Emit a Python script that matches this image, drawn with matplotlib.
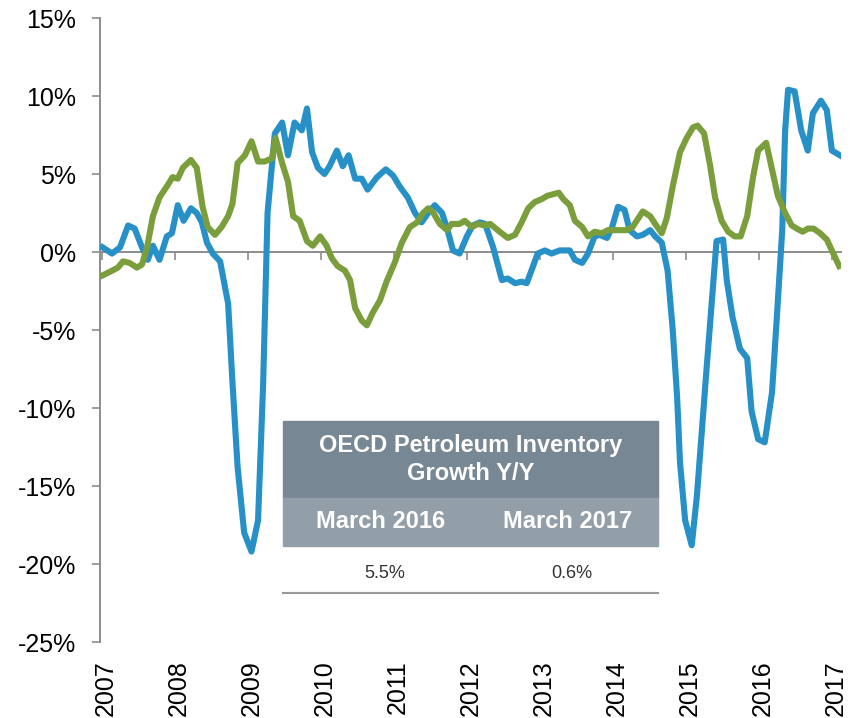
import numpy as np
import matplotlib.pyplot as plt
from matplotlib.patches import Rectangle
from matplotlib.ticker import FuncFormatter
import matplotlib.transforms as mtransforms

plt.rcParams['font.family'] = ['Liberation Sans', 'DejaVu Sans']

# blue series (decimal year, % y/y)
blue_t = [2007.01, 2007.14, 2007.25, 2007.36, 2007.45, 2007.55, 2007.63, 2007.70, 2007.79, 2007.89,
          2007.96, 2008.04, 2008.12, 2008.22, 2008.30, 2008.37, 2008.44, 2008.52, 2008.62, 2008.73,
          2008.79, 2008.86, 2008.95, 2009.05, 2009.14, 2009.21, 2009.27, 2009.37, 2009.47, 2009.55,
          2009.64, 2009.74, 2009.81, 2009.88, 2009.96, 2010.05, 2010.12, 2010.22, 2010.30, 2010.38,
          2010.47, 2010.56, 2010.64, 2010.77, 2010.89, 2010.99, 2011.08, 2011.19, 2011.29, 2011.38,
          2011.47, 2011.56, 2011.66, 2011.73, 2011.81, 2011.90, 2012.00, 2012.08, 2012.18, 2012.25,
          2012.36, 2012.48, 2012.56, 2012.66, 2012.75, 2012.82, 2012.90, 2012.97, 2013.07, 2013.16,
          2013.27, 2013.41, 2013.48, 2013.58, 2013.66, 2013.75, 2013.82, 2013.92, 2013.99, 2014.07,
          2014.16, 2014.23, 2014.33, 2014.41, 2014.51, 2014.58, 2014.67, 2014.75, 2014.82, 2014.88,
          2014.92, 2014.99, 2015.08, 2015.15, 2015.22, 2015.29, 2015.36, 2015.42, 2015.51, 2015.56,
          2015.64, 2015.74, 2015.84, 2015.90, 2015.99, 2016.08, 2016.18, 2016.25, 2016.32, 2016.36,
          2016.40, 2016.49, 2016.58, 2016.67, 2016.74, 2016.85, 2016.93, 2017.00, 2017.11]
blue_v = [0.3, -0.1, 0.3, 1.7, 1.5, 0.3, -0.5, 0.4, -0.5, 1.0,
          1.2, 3.0, 2.0, 2.8, 2.5, 1.9, 0.6, -0.1, -0.6, -3.3,
          -8.4, -13.8, -18.0, -19.2, -17.2, -8.4, 2.5, 7.6, 8.3, 6.2,
          8.3, 7.8, 9.2, 6.4, 5.4, 5.0, 5.5, 6.5, 5.5, 6.2,
          4.7, 4.7, 4.0, 4.8, 5.3, 4.9, 4.2, 3.5, 2.5, 1.9,
          2.5, 3.0, 2.5, 1.5, 0.1, -0.1, 1.0, 1.7, 1.9, 1.8,
          0.3, -1.8, -1.7, -2.0, -1.9, -2.0, -1.0, -0.1, 0.1, -0.1,
          0.1, 0.1, -0.5, -0.7, -0.1, 1.0, 1.1, 0.9, 1.6, 2.9,
          2.7, 1.4, 1.0, 1.1, 1.4, 1.0, 0.6, -1.2, -5.0, -9.3,
          -13.5, -17.2, -18.8, -15.7, -11.4, -7.1, -2.9, 0.7, 0.8, -1.8,
          -4.2, -6.2, -6.8, -10.2, -12.0, -12.2, -9.0, -3.9, 1.4, 7.8,
          10.4, 10.3, 7.8, 6.5, 8.9, 9.7, 9.1, 6.5, 6.2]

# green series
green_t = [2007.01, 2007.14, 2007.22, 2007.29, 2007.38, 2007.48, 2007.55, 2007.62, 2007.70, 2007.79,
           2007.89, 2007.97, 2008.04, 2008.11, 2008.22, 2008.30, 2008.38, 2008.45, 2008.55, 2008.64,
           2008.73, 2008.79, 2008.86, 2008.96, 2009.05, 2009.14, 2009.23, 2009.33, 2009.38, 2009.47,
           2009.55, 2009.62, 2009.71, 2009.81, 2009.89, 2009.99, 2010.08, 2010.15, 2010.23, 2010.33,
           2010.40, 2010.47, 2010.56, 2010.63, 2010.71, 2010.81, 2010.90, 2011.01, 2011.11, 2011.22,
           2011.32, 2011.40, 2011.47, 2011.53, 2011.63, 2011.73, 2011.79, 2011.90, 2011.97, 2012.07,
           2012.15, 2012.25, 2012.32, 2012.45, 2012.56, 2012.66, 2012.75, 2012.84, 2012.93, 2013.03,
           2013.10, 2013.18, 2013.26, 2013.32, 2013.41, 2013.48, 2013.58, 2013.66, 2013.75, 2013.85,
           2013.93, 2014.05, 2014.19, 2014.27, 2014.41, 2014.51, 2014.58, 2014.67, 2014.74, 2014.82,
           2014.92, 2015.01, 2015.10, 2015.16, 2015.25, 2015.33, 2015.40, 2015.49, 2015.58, 2015.67,
           2015.75, 2015.84, 2015.92, 2015.99, 2016.10, 2016.18, 2016.26, 2016.36, 2016.45, 2016.52,
           2016.60, 2016.67, 2016.75, 2016.84, 2016.93, 2017.01, 2017.10]
green_v = [-1.5, -1.2, -1.0, -0.6, -0.7, -1.0, -0.8, 0.3, 2.3, 3.5,
           4.2, 4.8, 4.7, 5.4, 5.9, 5.4, 2.9, 1.6, 1.1, 1.6,
           2.3, 3.1, 5.7, 6.2, 7.1, 5.8, 5.8, 6.0, 7.3, 5.7,
           4.5, 2.3, 2.0, 0.7, 0.4, 1.0, 0.4, -0.4, -0.9, -1.2,
           -1.8, -3.6, -4.4, -4.7, -3.9, -3.1, -1.9, -0.7, 0.6, 1.6,
           1.9, 2.5, 2.8, 2.6, 1.8, 1.4, 1.8, 1.8, 2.0, 1.6,
           1.8, 1.7, 1.8, 1.3, 0.9, 1.1, 1.9, 2.8, 3.2, 3.4,
           3.6, 3.7, 3.8, 3.4, 3.0, 2.0, 1.6, 1.0, 1.3, 1.2,
           1.4, 1.4, 1.4, 1.6, 2.6, 2.3, 1.8, 1.2, 2.2, 4.2,
           6.4, 7.3, 8.0, 8.1, 7.6, 5.6, 3.5, 2.0, 1.3, 1.0,
           1.0, 2.3, 4.8, 6.5, 7.0, 5.3, 3.6, 2.5, 1.7, 1.5,
           1.3, 1.5, 1.5, 1.2, 0.8, 0.0, -0.9]

years = list(range(2007, 2018))
yticks = list(range(-25, 20, 5))

tbl_title = ['OECD Petroleum Inventory', 'Growth Y/Y']
tbl_cols = ['March 2016', 'March 2017']
tbl_vals = ['5.5%', '0.6%']

W, H = 864, 718
fig = plt.figure(figsize=(W / 100, H / 100), dpi=100)
ax = fig.add_axes([100 / W, 1 - 642 / H, 741 / W, 624 / H])

ax.plot(blue_t, blue_v, color='#2790c6', lw=4.4, solid_joinstyle='round', zorder=3)
ax.plot(green_t, green_v, color='#7b9e3c', lw=4.4, solid_joinstyle='round', zorder=3)

ax.set_xlim(2006.975, 2017.125)
ax.set_ylim(-25, 15)

for s in ['top', 'right']:
    ax.spines[s].set_visible(False)
ax.spines['left'].set_color('#8c8c8c')
ax.spines['left'].set_linewidth(1.4)
ax.spines['bottom'].set_position(('data', 0))
ax.spines['bottom'].set_color('#8c8c8c')
ax.spines['bottom'].set_linewidth(1.4)

ax.set_yticks(yticks)
ax.yaxis.set_major_formatter(FuncFormatter(lambda v, p: f'{v:.0f}%'))
ax.tick_params(axis='y', direction='out', length=6, width=1.2, color='#8c8c8c',
               labelsize=18, pad=11)
ax.set_xticks(years)
ax.tick_params(axis='x', direction='out', length=6, width=1.2, color='#8c8c8c',
               labelbottom=False)

sec = ax.secondary_xaxis(0)
sec.set_xticks(years)
sec.set_xticklabels([str(y) for y in years], rotation=90, fontsize=18)
sec.tick_params(length=0, pad=13)
sec.spines['bottom'].set_visible(False)
shift = mtransforms.ScaledTranslation(4 / 100, 0, fig.dpi_scale_trans)
for lab in sec.get_xticklabels():
    lab.set_transform(lab.get_transform() + shift)

# inset table (figure pixel positions)
def fx(x):
    return x / W

def fy(y):
    return 1 - y / H

fig.patches.append(Rectangle((fx(283), fy(498)), fx(658) - fx(283), fy(421) - fy(498),
                             transform=fig.transFigure, color='#778794', zorder=5))
fig.patches.append(Rectangle((fx(283), fy(546)), fx(658) - fx(283), fy(498) - fy(546),
                             transform=fig.transFigure, color='#939fa8', zorder=5))
fig.add_artist(plt.Line2D([fx(283), fx(658)], [fy(593), fy(593)], transform=fig.transFigure,
                          color='#999999', lw=1.5))
fig.text(fx(471), fy(446), tbl_title[0], color='white', fontsize=17, fontweight='bold',
         ha='center', va='center', zorder=6)
fig.text(fx(471), fy(474), tbl_title[1], color='white', fontsize=17, fontweight='bold',
         ha='center', va='center', zorder=6)
for cx, col, val in zip([381, 568], tbl_cols, tbl_vals):
    fig.text(fx(cx), fy(522), col, color='white', fontsize=17, fontweight='bold',
             ha='center', va='center', zorder=6)
    fig.text(fx(cx + 4), fy(573), val, color='#333333', fontsize=13,
             ha='center', va='center', zorder=6)

fig.savefig('out.png', dpi=100)
